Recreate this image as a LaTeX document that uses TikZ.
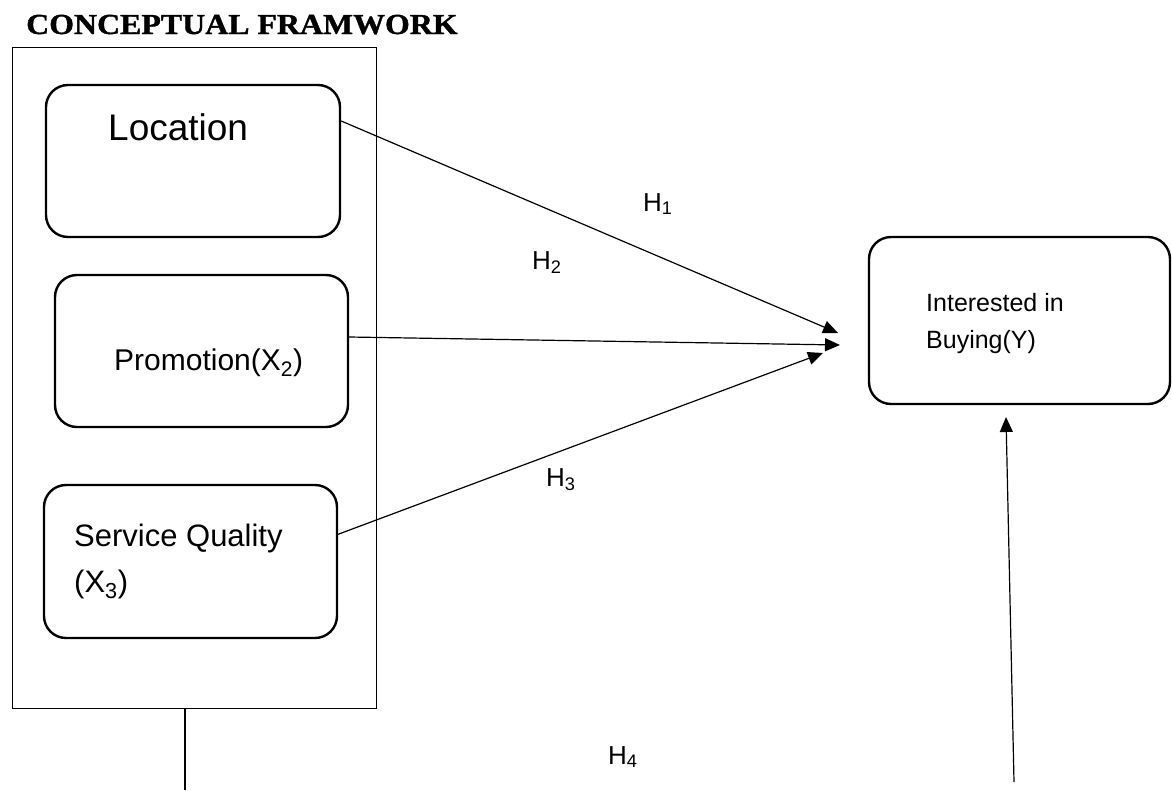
\documentclass[tikz,border=0pt]{standalone}
\usepackage{fontspec}
\setmainfont{Liberation Sans}
\newfontfamily\titlefont[FakeStretch=1.1,FakeBold=1.2]{Liberation Serif}
\usetikzlibrary{arrows.meta}
\begin{document}
\begin{tikzpicture}[x=1pt,y=-1pt,
  box/.style={draw, line width=2.4pt, rounded corners=22pt, inner sep=0pt},
  thinline/.style={line width=1.2pt},
  arr/.style={thinline, -{Triangle[length=15pt,width=13pt]}},
  lbl/.style={anchor=base west, inner sep=0pt},
  hlbl/.style={lbl, font=\fontsize{26}{30}\selectfont},
]
\useasboundingbox (0,0) rectangle (1172,790);
\node[lbl, font=\titlefont\bfseries\fontsize{29}{32}\selectfont] (title) at (26,34) {CONCEPTUAL FRAMWORK};
\node[draw, line width=1pt, minimum width=364pt, minimum height=661pt, inner sep=0pt] (outer) at (194,377.5) {};
\node[box, minimum width=294pt, minimum height=152pt] (loc) at (193,161) {};
\node[box, minimum width=293pt, minimum height=152pt] (promo) at (201.5,351) {};
\node[box, minimum width=293pt, minimum height=153pt] (serv) at (190.5,561.5) {};
\node[box, minimum width=301pt, minimum height=167pt] (int) at (1019.5,320.5) {};
\node[lbl, font=\fontsize{37}{42}\selectfont] (loctext) at (108,140) {Location};
\node[lbl, font=\fontsize{30}{34}\selectfont] (promotext) at (114,370) {Promotion(X\textsubscript{2})};
\node[lbl, font=\fontsize{31}{36}\selectfont] (servtext) at (74,546) {Service Quality};
\node[lbl, font=\fontsize{31}{36}\selectfont] (servtextb) at (74,592) {(X\textsubscript{3})};
\node[lbl, font=\fontsize{25}{30}\selectfont] (inttext) at (926,311) {Interested in};
\node[lbl, font=\fontsize{25}{30}\selectfont] (inttextb) at (926,348) {Buying(Y)};
\node[hlbl] (h1) at (643,211) {H\textsubscript{1}};
\node[hlbl] (h2) at (532,269) {H\textsubscript{2}};
\node[hlbl] (h3) at (546,486) {H\textsubscript{3}};
\node[hlbl] (h4) at (608,764) {H\textsubscript{4}};
\coordinate (t1) at (838,333);
\coordinate (t2) at (840,345);
\coordinate (t3) at (823,353);
\coordinate (t4) at (1006,417);
\coordinate (b4) at (1014,782);
\coordinate (b0) at (185,790);
\draw[arr] ([yshift=40pt]loc.east) -- (t1);
\draw[arr] ([yshift=14pt]promo.east) -- (t2);
\draw[arr] ([yshift=26.5pt,xshift=-2pt]serv.east) -- (t3);
\draw[arr] (b4) -- (t4);
\draw[thinline] ([xshift=-9pt]outer.south) -- (b0);
\end{tikzpicture}
\end{document}
